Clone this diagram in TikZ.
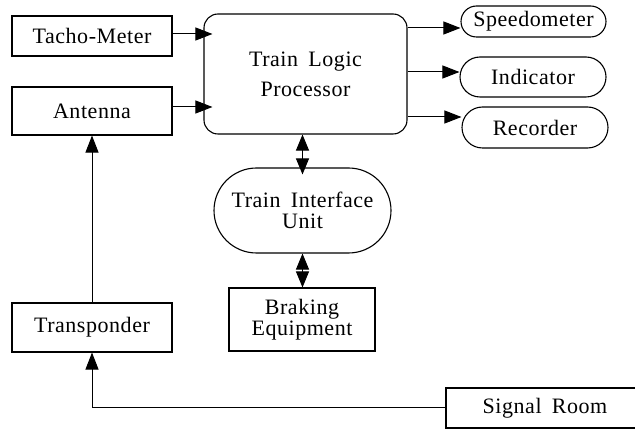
\documentclass[tikz,border=0pt]{standalone}
\usepackage{fontspec}
\setmainfont[LetterSpace=2.5,WordSpace=1.7]{Liberation Serif}
\usetikzlibrary{arrows.meta,shapes.misc}
\begin{document}
\begin{tikzpicture}[x=1pt,y=-1pt,
  every node/.style={inner sep=0pt,align=center,font=\fontsize{22}{21}\selectfont},
  blk/.style={draw,line width=1.1pt,rectangle},
  pill/.style={draw,line width=1.1pt,rounded rectangle},
  arr/.style={line width=1pt,-{Triangle[length=17pt,width=13pt]}},
  darr/.style={line width=1pt,{Triangle[length=16pt,width=13pt]}-{Triangle[length=16pt,width=13pt]}}]
\clip (0,0) rectangle (635,430);
\fill[white] (0,0) rectangle (635,430);

% input devices
\node[blk,minimum width=160pt,minimum height=40pt] (tacho) at (92,36) {Tacho-Meter};
\node[blk,minimum width=160pt,minimum height=48pt] (ant) at (92,111) {Antenna};

% central processor
\node[draw,line width=1.1pt,rounded corners=14pt,minimum width=203pt,minimum height=120pt,
      font=\fontsize{22}{30}\selectfont] (tlp) at (305.5,74) {Train Logic\\Processor};

% output devices
\node[pill,minimum width=145pt,minimum height=31pt] (spd) at (533.5,21.5) {Speedometer};
\node[pill,minimum width=146pt,minimum height=40pt] (ind) at (533,77) {Indicator};
\node[pill,minimum width=146pt,minimum height=41pt] (rec) at (535,127.5) {Recorder};

% interface and brakes
\node[pill,minimum width=177pt,minimum height=85pt] (tiu) at (302.5,210.5) {Train Interface\\Unit};
\node[blk,minimum width=146pt,minimum height=63pt] (brk) at (302,319.5) {Braking\\Equipment};

% wayside
\node[blk,minimum width=160pt,minimum height=49pt] (trp) at (92,327.5) {Transponder};
\node[blk,minimum width=198pt,minimum height=40pt] (sig) at (545,408) {Signal Room};

% connectors
\coordinate (tin) at ([yshift=2pt]tacho.east);
\coordinate (ain) at ([yshift=4pt]ant.east);
\draw[arr,shorten >=-9pt] (tin) -- (tlp.west |- tin);
\draw[arr,shorten >=-9pt] (ain) -- (tlp.west |- ain);

\coordinate (sin) at ([yshift=-6.5pt]spd.west);
\coordinate (iin) at ([yshift=5pt]ind.west);
\coordinate (rin) at ([yshift=10.5pt]rec.west);
\draw[arr] (tlp.east |- sin) -- (sin);
\draw[arr] (tlp.east |- iin) -- (iin);
\draw[arr] (tlp.east |- rin) -- (rin);

\draw[darr,shorten >=-7pt] (tiu.north |- tlp.south) -- (tiu.north);
\draw[darr] (tiu.south) -- (tiu.south |- brk.north);

\draw[arr] (trp.north) -- (ant.south);
\draw[arr] (sig.west) -| (trp.south);
\end{tikzpicture}
\end{document}
